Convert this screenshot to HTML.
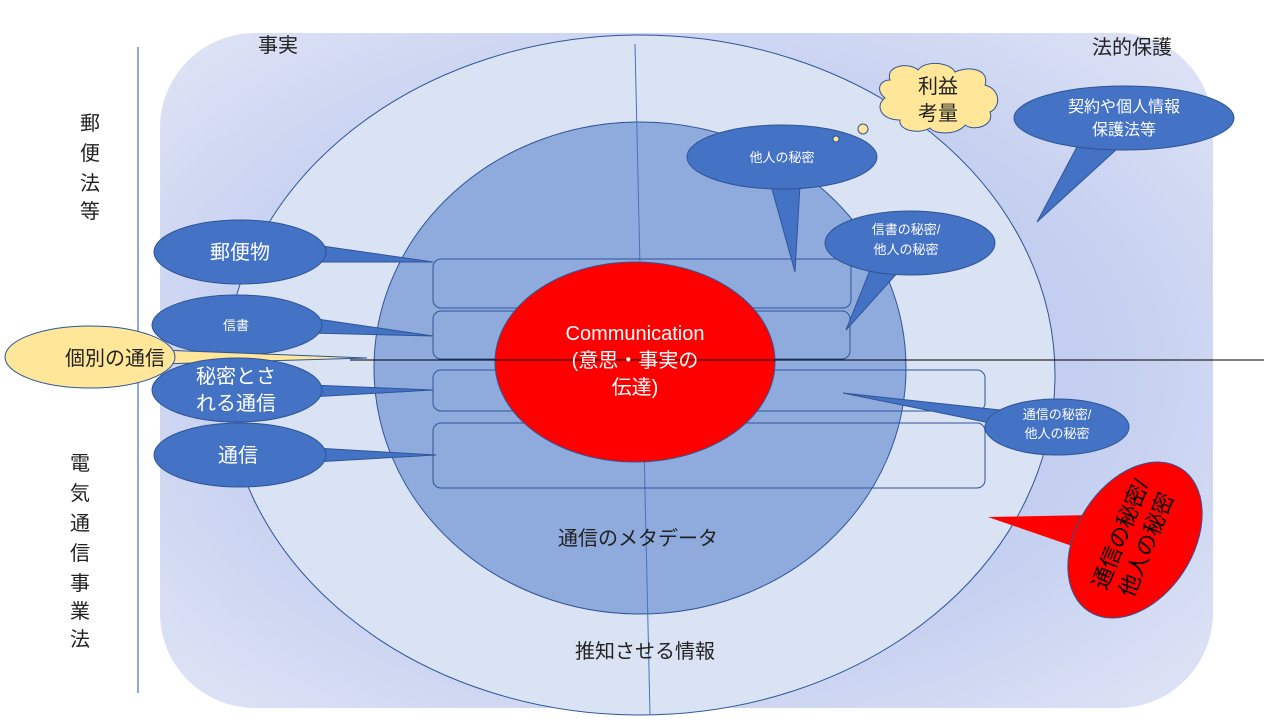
<!DOCTYPE html>
<html><head><meta charset="utf-8"><style>
body{margin:0;background:#fff}
svg text{font-family:"Liberation Sans","Noto Sans CJK JP",sans-serif}
</style></head><body>
<svg width="1280" height="720" viewBox="0 0 1280 720" xmlns="http://www.w3.org/2000/svg">
<defs>
<radialGradient id="bg" cx="0.5" cy="0.5" r="0.7">
<stop offset="0" stop-color="#b4c3ec"/><stop offset="0.6" stop-color="#c6d0f0"/><stop offset="1" stop-color="#e0e5f6"/>
</radialGradient>
</defs>
<rect x="160" y="33" width="1053" height="675" rx="95" fill="url(#bg)"/>
<line x1="138" y1="47" x2="138" y2="693" stroke="#4472c4" stroke-width="1.2"/>
<ellipse cx="640" cy="375" rx="415" ry="340" fill="#dae3f3" stroke="#2f5597" stroke-width="1"/>
<ellipse cx="640" cy="368" rx="266" ry="246" fill="#8faadc" stroke="#2f5597" stroke-width="1"/>
<line x1="635" y1="44" x2="650" y2="715" stroke="#4472c4" stroke-width="1"/>
<g fill="none" stroke="#2f5597" stroke-width="1">
<rect x="433" y="259" width="418" height="49" rx="8"/>
<rect x="433" y="311" width="417" height="48" rx="8"/>
<rect x="433" y="370" width="552" height="41" rx="8"/>
<rect x="433" y="423" width="552" height="65" rx="8"/>
</g>
<ellipse cx="635" cy="362" rx="140" ry="100" fill="#ff0000" stroke="#2f5597" stroke-width="1"/>
<line x1="350" y1="360" x2="1264" y2="360" stroke="#000" stroke-width="1"/>
<g fill="#4472c4" stroke="#2f5597" stroke-width="1">
<polygon points="315,245 433,262 315,262"/><ellipse cx="240" cy="252" rx="86" ry="32"/>
<polygon points="310,318 433,336 310,333"/><ellipse cx="237" cy="325" rx="85" ry="30"/>
</g>
<text x="236" y="330" font-size="13" fill="#fff" text-anchor="middle">信書</text>
<polygon points="160,350 367,358 160,364" fill="#ffe699" stroke="#2f5597"/>
<ellipse cx="90" cy="357" rx="85" ry="31" fill="#ffe699" stroke="#2f5597"/>
<text x="115" y="365" font-size="20" fill="#222" text-anchor="middle">個別の通信</text>
<g fill="#4472c4" stroke="#2f5597" stroke-width="1">
<polygon points="310,385 433,390 310,397"/><ellipse cx="237" cy="390" rx="85" ry="32"/>
<polygon points="315,448 436,455 315,462"/><ellipse cx="240" cy="455" rx="86" ry="32"/>
<polygon points="770,182 795,272 800,185"/><ellipse cx="782" cy="157" rx="95" ry="32"/>
<polygon points="872,265 846,330 900,270"/><ellipse cx="910" cy="243" rx="85" ry="32"/>
<polygon points="1078,145 1037,222 1118,148"/><ellipse cx="1124" cy="118" rx="110" ry="32"/>
<polygon points="1000,410 843,393 1000,425"/><ellipse cx="1057" cy="427" rx="72" ry="28"/>
</g>
<polygon points="1092,515 988,517 1078,548" fill="#ff0000"/>
<ellipse cx="1135" cy="540" rx="58" ry="85" transform="rotate(33 1135 540)" fill="#ff0000" stroke="#2f5597"/>
<g fill="#ffe699" stroke="#2f5597" stroke-width="1">
<circle cx="863" cy="129" r="5"/><circle cx="836" cy="139" r="3"/>
<path d="M890,80 C885,65 910,62 918,70 C925,60 950,62 955,72 C970,65 990,70 985,85 C1002,90 1000,108 990,112 C995,125 975,132 965,125 C958,135 935,135 930,128 C918,135 898,130 900,120 C880,120 875,105 885,98 C875,90 880,80 890,80 Z"/>
</g>
<g font-size="20" fill="#222">
<text x="278" y="52" text-anchor="middle">事実</text>
<text x="1132" y="54" text-anchor="middle">法的保護</text>
<g text-anchor="middle">
<text x="90" y="130">郵</text><text x="90" y="160">便</text><text x="90" y="190">法</text><text x="90" y="218">等</text>
<text x="80" y="470">電</text><text x="80" y="500">気</text><text x="80" y="530">通</text><text x="80" y="560">信</text><text x="80" y="590">事</text><text x="80" y="618">業</text><text x="80" y="646">法</text>
</g>
<text x="638" y="545" text-anchor="middle">通信のメタデータ</text>
<text x="645" y="658" text-anchor="middle">推知させる情報</text>
<text x="938" y="93" text-anchor="middle">利益</text>
<text x="938" y="120" text-anchor="middle">考量</text>
</g>
<g fill="#fff" text-anchor="middle">
<text x="635" y="340" font-size="20">Communication</text>
<text x="635" y="367" font-size="20">(意思・事実の</text>
<text x="635" y="394" font-size="20">伝達)</text>
<text x="240" y="259" font-size="20">郵便物</text>
<text x="236" y="383" font-size="20">秘密とさ</text>
<text x="236" y="410" font-size="20">れる通信</text>
<text x="238" y="462" font-size="20">通信</text>
<text x="782" y="162" font-size="13">他人の秘密</text>
<text x="906" y="234" font-size="13">信書の秘密/</text>
<text x="906" y="254" font-size="13">他人の秘密</text>
<text x="1124" y="112" font-size="16">契約や個人情報</text>
<text x="1124" y="135" font-size="16">保護法等</text>
<text x="1057" y="419" font-size="13">通信の秘密/</text>
<text x="1057" y="438" font-size="13">他人の秘密</text>
<g transform="rotate(-68 1135 540)"><text x="1135" y="532" font-size="22" fill="#000">通信の秘密/</text><text x="1135" y="560" font-size="22" fill="#000">他人の秘密</text></g>
</g>
</svg>
</body></html>
